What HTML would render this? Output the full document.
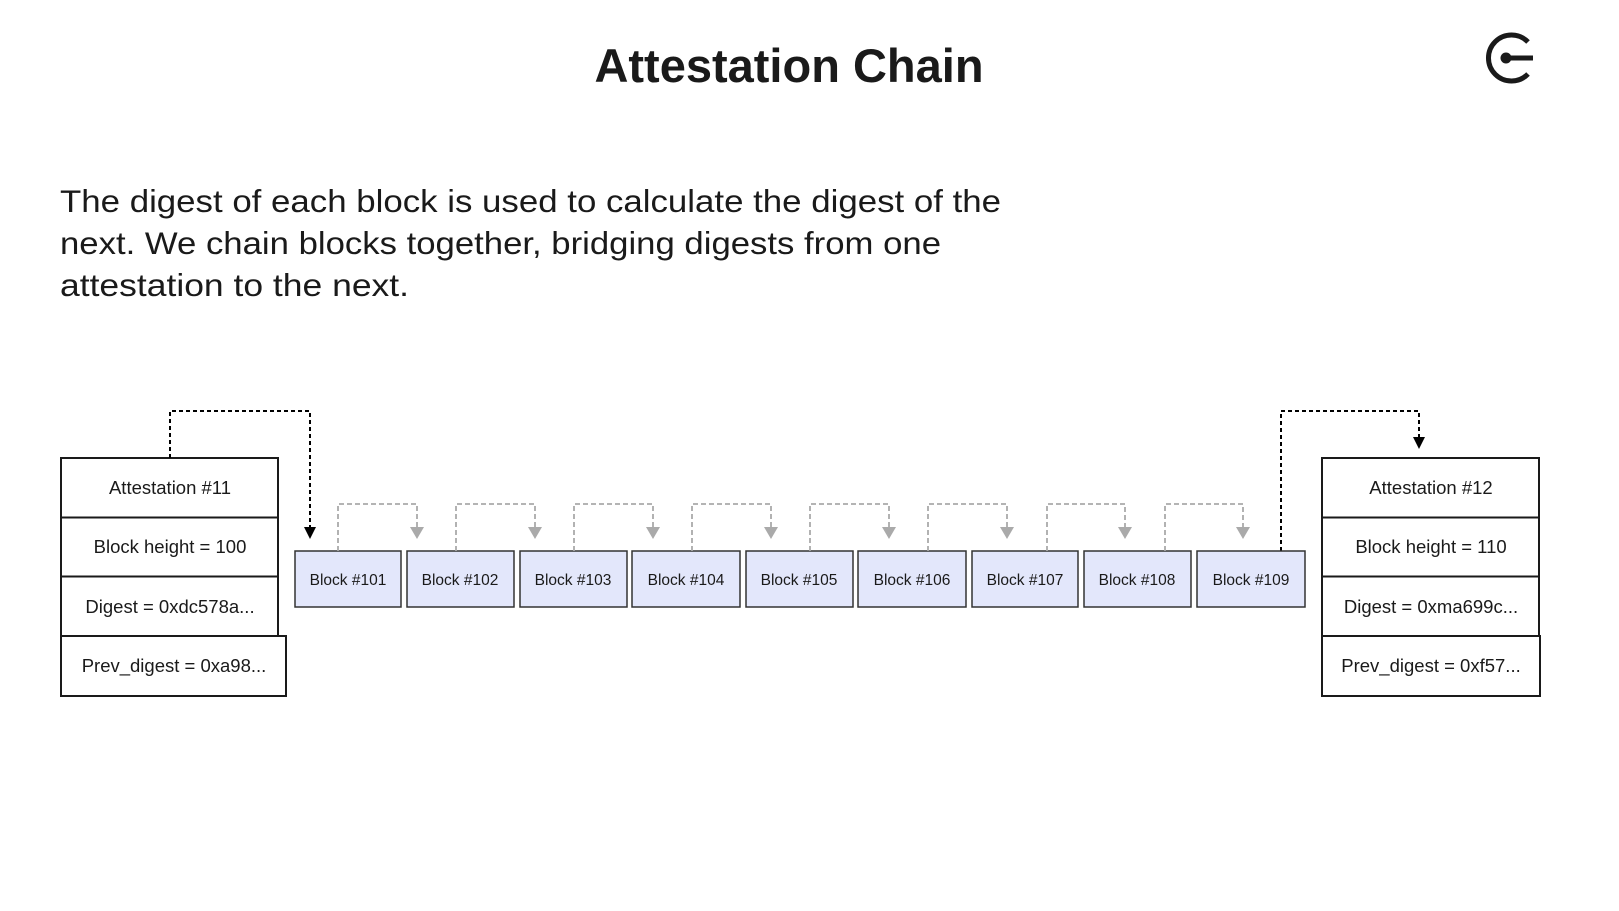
<!DOCTYPE html>
<html><head><meta charset="utf-8"><style>
html,body{margin:0;padding:0;background:#fff;}
svg{display:block;font-family:"Liberation Sans",sans-serif;}
</style></head><body>
<svg width="1619" height="911" viewBox="0 0 1619 911" xmlns="http://www.w3.org/2000/svg">
<text x="789" y="82" text-anchor="middle" font-size="47" font-weight="bold" fill="#1a1a1a">Attestation Chain</text>
<!-- logo -->
<path d="M1528,42 A23,23 0 1 0 1528,74" fill="none" stroke="#1a1a1a" stroke-width="5"/>
<line x1="1506" y1="58" x2="1533" y2="58" stroke="#1a1a1a" stroke-width="5"/>
<circle cx="1506" cy="58" r="5.5" fill="#1a1a1a"/>
<g font-size="31.5" fill="#1a1a1a">
<text x="60" y="212" textLength="941" lengthAdjust="spacingAndGlyphs">The digest of each block is used to calculate the digest of the</text>
<text x="60" y="254" textLength="881" lengthAdjust="spacingAndGlyphs">next. We chain blocks together, bridging digests from one</text>
<text x="60" y="296" textLength="349" lengthAdjust="spacingAndGlyphs">attestation to the next.</text>
</g>
<g fill="#fff" stroke="#1a1a1a" stroke-width="2">
<rect x="61" y="458" width="217" height="59.5"/>
<rect x="61" y="517.5" width="217" height="59"/>
<rect x="61" y="576.5" width="217" height="59.5"/>
<rect x="61" y="636" width="225" height="60"/>
<rect x="1322" y="458" width="217" height="59.5"/>
<rect x="1322" y="517.5" width="217" height="59"/>
<rect x="1322" y="576.5" width="217" height="59.5"/>
<rect x="1322" y="636" width="218" height="60"/>
</g>
<g font-size="18.5" fill="#1a1a1a" text-anchor="middle">
<text x="170" y="494">Attestation #11</text>
<text x="170" y="553">Block height = 100</text>
<text x="170" y="613">Digest = 0xdc578a...</text>
<text x="174" y="672">Prev_digest = 0xa98...</text>
<text x="1431" y="494">Attestation #12</text>
<text x="1431" y="553">Block height = 110</text>
<text x="1431" y="613">Digest = 0xma699c...</text>
<text x="1431" y="672">Prev_digest = 0xf57...</text>
</g>
<path d="M170,458 V411 H310 V528" fill="none" stroke="#000" stroke-width="2" stroke-dasharray="4,3"/>
<path d="M304,527 L316,527 L310,539 z" fill="#000"/>
<path d="M1281,551 V411 H1419 V438" fill="none" stroke="#000" stroke-width="2" stroke-dasharray="4,3"/>
<path d="M1413,437 L1425,437 L1419,449 z" fill="#000"/>
<g fill="#e3e7fb" stroke="#333" stroke-width="1.5">
<rect x="295" y="551" width="106" height="56"/>
<rect x="407" y="551" width="107" height="56"/>
<rect x="520" y="551" width="107" height="56"/>
<rect x="632" y="551" width="108" height="56"/>
<rect x="746" y="551" width="107" height="56"/>
<rect x="858" y="551" width="108" height="56"/>
<rect x="972" y="551" width="106" height="56"/>
<rect x="1084" y="551" width="107" height="56"/>
<rect x="1197" y="551" width="108" height="56"/>
</g>
<g font-size="15.5" fill="#1a1a1a" text-anchor="middle">
<text x="348" y="585">Block #101</text>
<text x="460" y="585">Block #102</text>
<text x="573" y="585">Block #103</text>
<text x="686" y="585">Block #104</text>
<text x="799" y="585">Block #105</text>
<text x="912" y="585">Block #106</text>
<text x="1025" y="585">Block #107</text>
<text x="1137" y="585">Block #108</text>
<text x="1251" y="585">Block #109</text>
</g>
<g fill="none" stroke="#aaa" stroke-width="1.8" stroke-dasharray="5,3">
<path d="M338,551 V504 H417 V528"/>
<path d="M456,551 V504 H535 V528"/>
<path d="M574,551 V504 H653 V528"/>
<path d="M692,551 V504 H771 V528"/>
<path d="M810,551 V504 H889 V528"/>
<path d="M928,551 V504 H1007 V528"/>
<path d="M1047,551 V504 H1125 V528"/>
<path d="M1165,551 V504 H1243 V528"/>
</g>
<g fill="#aaa">
<path d="M410,527 L424,527 L417,539 z"/>
<path d="M528,527 L542,527 L535,539 z"/>
<path d="M646,527 L660,527 L653,539 z"/>
<path d="M764,527 L778,527 L771,539 z"/>
<path d="M882,527 L896,527 L889,539 z"/>
<path d="M1000,527 L1014,527 L1007,539 z"/>
<path d="M1118,527 L1132,527 L1125,539 z"/>
<path d="M1236,527 L1250,527 L1243,539 z"/>
</g>
</svg>
</body></html>
